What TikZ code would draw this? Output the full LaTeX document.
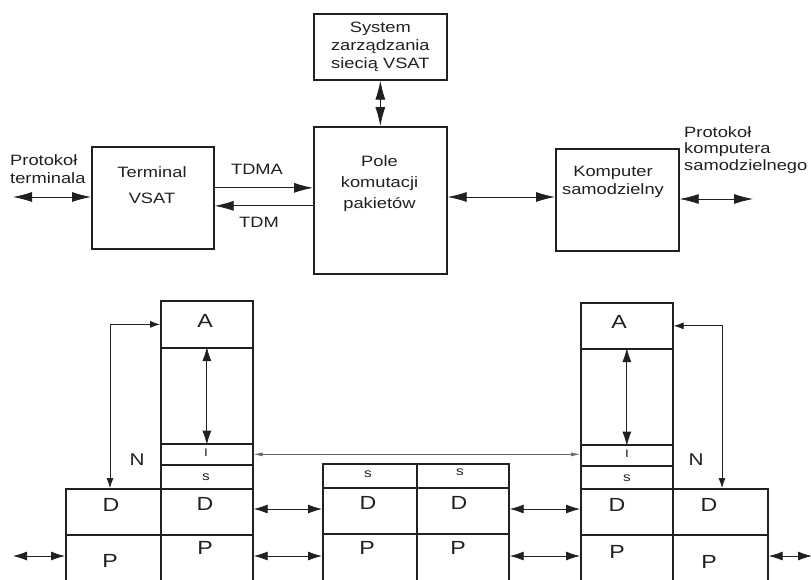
\documentclass[tikz,border=0pt]{standalone}
\usepackage{fontspec}
\setmainfont{Liberation Sans}[FakeStretch=1.22]
\usetikzlibrary{arrows.meta}
\definecolor{ink}{HTML}{231F20}
\definecolor{faint}{HTML}{666666}
\begin{document}
\begin{tikzpicture}[x=1pt,y=-1pt,
  box/.style={draw=ink,line width=1.7pt,inner sep=0pt,anchor=north west},
  txt/.style={text=ink,font=\fontsize{15}{18}\selectfont,align=center,inner sep=0pt},
  lbl/.style={text=ink,font=\fontsize{15}{17.5}\selectfont,align=left,inner sep=0pt,anchor=west},
  big/.style={text=ink,font=\fontsize{19}{22}\selectfont,inner sep=0pt},
  sml/.style={text=ink,font=\fontsize{12.5}{14}\selectfont,inner sep=0pt},
  conn/.style={draw=ink,line width=0.8pt},
  bdbl/.style={conn,{Latex[length=19pt,width=10pt]}-{Latex[length=19pt,width=10pt]}},
  bone/.style={conn,-{Latex[length=19pt,width=10pt]}},
  mdbl/.style={conn,{Latex[length=14pt,width=9pt]}-{Latex[length=14pt,width=9pt]}},
  sdbl/.style={conn,{Latex[length=10pt,width=7pt]}-{Latex[length=10pt,width=7pt]}},
  idbl/.style={draw=faint,line width=0.6pt,{Latex[length=9pt,width=4pt]}-{Latex[length=9pt,width=4pt]}}]
\useasboundingbox (0,0) rectangle (811,579);
\clip (0,0) rectangle (811,579);

% ---------- upper diagram ----------
\node[box,minimum width=133pt,minimum height=66pt] (sys) at (313,13) {};
\node[txt] (sysT) at (sys.center) {System\\zarządzania\\siecią VSAT};
\node[box,minimum width=133pt,minimum height=147pt] (pole) at (313,126) {};
\node[txt,font=\fontsize{15}{21}\selectfont] (poleT) at (379.5,184) {Pole\\komutacji\\pakietów};
\node[box,minimum width=122pt,minimum height=102pt] (term) at (91,146) {};
\node[txt,font=\fontsize{15}{26}\selectfont] (termT) at (152,185) {Terminal\\VSAT};
\node[box,minimum width=123pt,minimum height=102pt] (komp) at (555,148) {};
\node[txt] (kompT) at (613,182) {Komputer\\samodzielny};

\node[lbl] (lpT) at (10,169) {Protokoł\\terminala};
\node[lbl,font=\fontsize{15}{16.5}\selectfont] (rpT) at (684,150) {Protokoł\\komputera\\samodzielnego};
\node[txt] (tdmaT) at (257,169) {TDMA};
\node[txt] (tdmT) at (259,222) {TDM};

\coordinate (lp) at (13,197);
\coordinate (rp) at (753,199);
\draw[bdbl] (sys.south) -- (pole.north);
\draw[bdbl] (lp) -- (lp -| term.west);
\path ([yshift=10pt]term.east) coordinate (t1);
\path ([yshift=-8pt]term.east) coordinate (t2);
\draw[bone] (t1) -- (t1 -| pole.west);
\draw[bone] (t2 -| pole.west) -- (t2);
\coordinate (pk) at (0,197);
\draw[bdbl] (pk -| pole.east) -- (pk -| komp.west);
\draw[bdbl] (rp -| komp.east) -- (rp);

% ---------- lower diagram ----------
% left stack
\node[box,minimum width=92pt,minimum height=47pt] (lA) at (160,300) {};
\node[box,minimum width=92pt,minimum height=96pt] (lM) at (160,347) {};
\node[box,minimum width=92pt,minimum height=21pt] (lI) at (160,443) {};
\node[box,minimum width=92pt,minimum height=24pt] (lS) at (160,464) {};
\node[box,minimum width=92pt,minimum height=46pt] (lD) at (160,488) {};
\node[box,minimum width=92pt,minimum height=56pt] (lP) at (160,534) {};
\node[box,minimum width=95pt,minimum height=46pt] (loD) at (65,488) {};
\node[box,minimum width=95pt,minimum height=56pt] (loP) at (65,534) {};
% middle block
\node[box,minimum width=94pt,minimum height=24pt] (mS1) at (322,463) {};
\node[box,minimum width=92pt,minimum height=24pt] (mS2) at (416,463) {};
\node[box,minimum width=94pt,minimum height=46pt] (mD1) at (322,487) {};
\node[box,minimum width=92pt,minimum height=46pt] (mD2) at (416,487) {};
\node[box,minimum width=94pt,minimum height=57pt] (mP1) at (322,533) {};
\node[box,minimum width=92pt,minimum height=57pt] (mP2) at (416,533) {};
% right stack
\node[box,minimum width=92pt,minimum height=46pt] (rA) at (580,302) {};
\node[box,minimum width=92pt,minimum height=96pt] (rM) at (580,348) {};
\node[box,minimum width=92pt,minimum height=21pt] (rI) at (580,444) {};
\node[box,minimum width=92pt,minimum height=23pt] (rS) at (580,465) {};
\node[box,minimum width=92pt,minimum height=46pt] (rD) at (580,488) {};
\node[box,minimum width=92pt,minimum height=56pt] (rP) at (580,534) {};
\node[box,minimum width=95pt,minimum height=46pt] (roD) at (672,488) {};
\node[box,minimum width=95pt,minimum height=56pt] (roP) at (672,534) {};

% texts
\node[big] (tlA) at (205,321) {A};
\node[big] (trA) at (619,322) {A};
\node[sml,font=\fontsize{11}{12}\selectfont] (tlI) at (206,453) {I};
\node[sml,font=\fontsize{11}{12}\selectfont] (trI) at (627,454) {I};
\node[sml] (tlS) at (206,477) {s};
\node[sml] (tmS1) at (368,474) {s};
\node[sml] (tmS2) at (460,472) {s};
\node[sml] (trS) at (627,478) {s};
\node[big] (tloD) at (111,505) {D};
\node[big] (tlD) at (205,504) {D};
\node[big] (tmD1) at (368,503) {D};
\node[big] (tmD2) at (459,503) {D};
\node[big] (trD) at (617,505) {D};
\node[big] (troD) at (709,505) {D};
\node[big] (tloP) at (110,561) {P};
\node[big] (tlP) at (205,548) {P};
\node[big] (tmP1) at (367,548) {P};
\node[big] (tmP2) at (458,548) {P};
\node[big] (trP) at (617,552) {P};
\node[big] (troP) at (709,562) {P};
\node[big,font=\fontsize{17}{20}\selectfont] (tlN) at (137,460) {N};
\node[big,font=\fontsize{17}{20}\selectfont] (trN) at (696,460) {N};

% connectors
\coordinate (lc) at (110,0);
\coordinate (rc) at (722,0);
\draw[sdbl] (lc |- loD.north) -- (lc |- lA.west) -- (lA.west);
\draw[sdbl] (rA.east) -- (rc |- rA.east) -- (rc |- roD.north);
\draw[mdbl] (lM.north) -- (lM.south);
\draw[mdbl] (rM.north) -- (rM.south);
\draw[idbl] (lI.east) -- (lI.east -| rI.west);
\coordinate (dy) at (0,509);
\coordinate (py) at (0,556);
\draw[mdbl] (dy -| lD.east) -- (dy -| mD1.west);
\draw[mdbl] (dy -| mD2.east) -- (dy -| rD.west);
\draw[mdbl] (py -| lP.east) -- (py -| mP1.west);
\draw[mdbl] (py -| mP2.east) -- (py -| rP.west);
\coordinate (le) at (13,556);
\coordinate (re) at (812,556);
\draw[mdbl] (le) -- (le -| loP.west);
\draw[mdbl] (re -| roP.east) -- (re);
\end{tikzpicture}
\end{document}
